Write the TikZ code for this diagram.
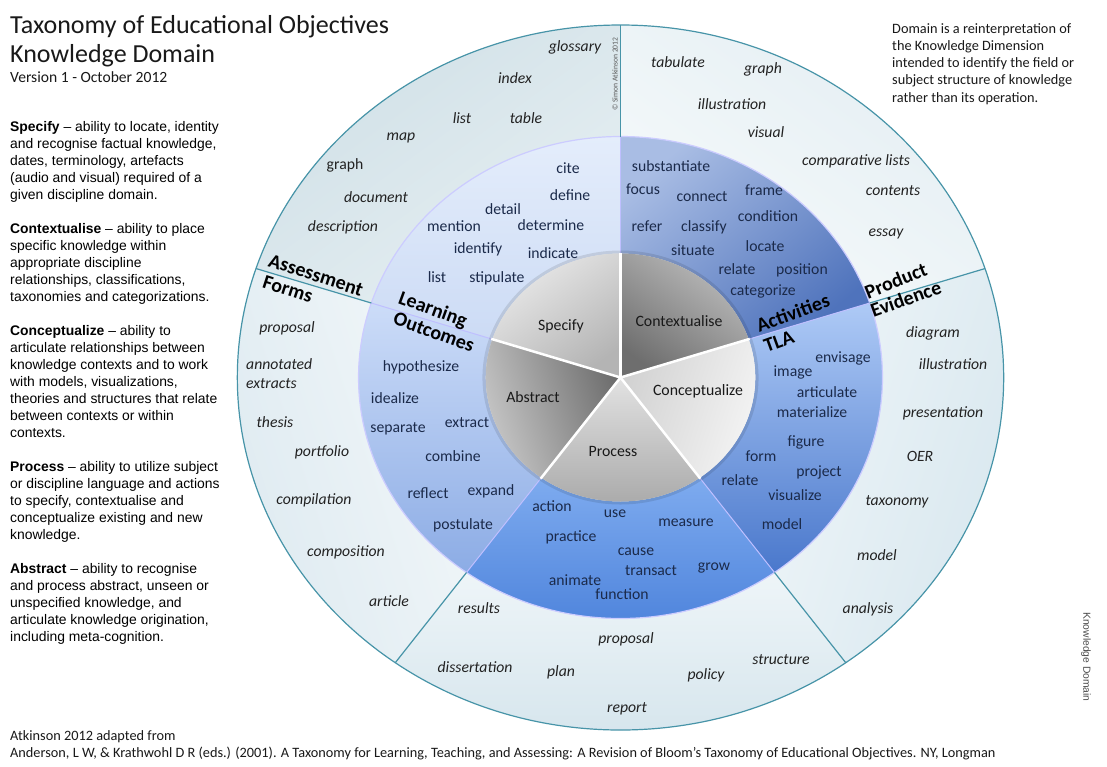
\documentclass[tikz,border=0pt]{standalone}
\usepackage{fontspec}
\setmainfont{Carlito}
\newfontfamily\arialf{Liberation Sans}
\definecolor{tealline}{HTML}{4794A8}
\definecolor{navytext}{HTML}{1B2A4A}
\definecolor{outtext}{HTML}{222222}
% outer ring colours
\definecolor{oTLa}{HTML}{D0E0E7}\definecolor{oTLb}{HTML}{E6EFF2}
\definecolor{oTRa}{HTML}{E4EEF3}\definecolor{oTRb}{HTML}{F6FAFB}
\definecolor{oRa}{HTML}{D6E6EE}\definecolor{oRb}{HTML}{EEF5F8}
\definecolor{oBa}{HTML}{D4E4EC}\definecolor{oBb}{HTML}{EEF5F8}
\definecolor{oLa}{HTML}{DCE9F0}\definecolor{oLb}{HTML}{F2F7F9}
% blue ring colours
\definecolor{bTLa}{HTML}{E4EDFB}\definecolor{bTLb}{HTML}{CCDBF5}
\definecolor{bTRa}{HTML}{A9BDE4}\definecolor{bTRb}{HTML}{4F73BC}
\definecolor{bRa}{HTML}{AECAF6}\definecolor{bRb}{HTML}{4A78CC}
\definecolor{bBa}{HTML}{7EABEF}\definecolor{bBb}{HTML}{4C82DB}
\definecolor{bLa}{HTML}{CCDCF8}\definecolor{bLb}{HTML}{8CACE5}
% grey pie colours
\definecolor{gSa}{HTML}{EAEAEA}\definecolor{gSb}{HTML}{B4B4B4}
\definecolor{gCa}{HTML}{BDBDBD}\definecolor{gCb}{HTML}{6E6E6E}
\definecolor{gKa}{HTML}{F6F6F6}\definecolor{gKb}{HTML}{D2D2D2}
\definecolor{gPa}{HTML}{A8A8A8}\definecolor{gPb}{HTML}{E2E2E2}
\definecolor{gAa}{HTML}{CDCDCD}\definecolor{gAb}{HTML}{6E6E6E}
\newcommand{\annsector}[5]{\path[#1] (#2:#5) arc[start angle=#2,end angle=#3,radius=#5] -- (#3:#4) arc[start angle=#3,end angle=#2,radius=#4] -- cycle;}
\newcommand{\piesector}[3]{\path[#1] (0,0) -- (#2:124) arc[start angle=#2,end angle=#3,radius=124] -- cycle;}
\tikzset{
  ot/.style={font=\fontsize{15.7}{16}\selectfont\itshape, text=outtext, inner sep=0pt, text height=0.7em, text depth=0pt},
  otup/.style={font=\fontsize{15.7}{16}\selectfont, text=outtext, inner sep=0pt, text height=0.7em, text depth=0pt},
  mt/.style={font=\fontsize{15.7}{16}\selectfont, text=navytext, inner sep=0pt, text height=0.7em, text depth=0pt},
  gt/.style={font=\fontsize{15.8}{16}\selectfont, text=black!90, inner sep=0pt, text height=0.7em, text depth=0pt},
  lab/.style={font=\fontsize{20}{21}\selectfont\bfseries, text=black, inner sep=0pt, text height=0.7em, text depth=0pt},
  divline/.style={tealline, line width=1.2pt},
  bluediv/.style={white!75!blue, line width=1pt}
}
\begin{document}
\begin{tikzpicture}[x=1pt,y=-1pt]
\useasboundingbox (0,0) rectangle (1107,766);
\fill[white] (0,0) rectangle (1107,766);

% ---------- wheel ----------
\begin{scope}[shift={(620.5,377.5)}, xscale=1.087, yscale=-1]
  % outer ring
  \annsector{top color=oTLa, bottom color=oTLb, shading angle=36}{90}{162}{241}{352.5}
  \annsector{top color=oTRa, bottom color=oTRb, shading angle=-36}{18}{90}{241}{352.5}
  \annsector{top color=oRa, bottom color=oRb, shading angle=-108}{-54}{18}{241}{352.5}
  \annsector{top color=oBa, bottom color=oBb, shading angle=180}{-126}{-54}{241}{352.5}
  \annsector{top color=oLa, bottom color=oLb, shading angle=108}{162}{234}{241}{352.5}
  % blue ring
  \annsector{top color=bTLa, bottom color=bTLb, shading angle=0}{90}{162}{124}{241}
  \annsector{top color=bTRa, bottom color=bTRb, shading angle=40}{18}{90}{124}{241}
  \annsector{top color=bRa, bottom color=bRb, shading angle=0}{-54}{18}{124}{241}
  \annsector{top color=bBa, bottom color=bBb, shading angle=0}{-126}{-54}{124}{241}
  \annsector{top color=bLa, bottom color=bLb, shading angle=0}{162}{234}{124}{241}
  \draw[white!80!blue, line width=1.2pt] (0,0) circle[radius=241];
  \foreach \a in {90,18,-54,-126,162} \draw[bluediv] (\a:124) -- (\a:241);
  % outer borders
  \draw[divline] (0,0) circle[radius=352.5];
  \foreach \a in {90,18,-54,-126,162} \draw[divline] (\a:241) -- (\a:352.5);
  % shadow of the grey disc
  \fill[black, opacity=0.10] (0,0) circle[radius=127];
  % grey pie
  \piesector{top color=gSa, bottom color=gSb, shading angle=36}{90}{162}
  \piesector{top color=gCa, bottom color=gCb, shading angle=-36}{18}{90}
  \piesector{top color=gKa, bottom color=gKb, shading angle=-108}{-54}{18}
  \piesector{top color=gPa, bottom color=gPb, shading angle=180}{-126}{-54}
  \piesector{top color=gAa, bottom color=gAb, shading angle=108}{162}{234}
  \foreach \a in {90,18,-54,-126,162} \draw[white, line width=2.5pt] (0,0) -- (\a:125);
\end{scope}

% ---------- grey labels ----------
\node[gt] (g1) at (561,327) {Specify};
\node[gt] (g2) at (679,323) {Contextualise};
\node[gt] (g3) at (698,392) {Conceptualize};
\node[gt] (g4) at (533,399) {Abstract};
\node[gt] (g5) at (613,453) {Process};

% ---------- section labels ----------
\node[lab, rotate=-18] (l1) at (315,278) {Assessment};
\node[lab, rotate=-18] (l2) at (287,292) {Forms};
\node[lab, rotate=-20] (l3) at (432,312) {Learning};
\node[lab, rotate=-20] (l4) at (433,335) {Outcomes};
\node[lab, rotate=20] (l5) at (794,316) {Activities};
\node[lab, rotate=20] (l6) at (780,344) {TLA};
\node[lab, rotate=22] (l7) at (897,284) {Product};
\node[lab, rotate=20] (l8) at (907,302) {Evidence};

% ---------- outer ring words ----------
\foreach \t/\x/\y [count=\i] in {glossary/575/48, index/515/80, list/462/120, table/526/120, map/401/137, document/376/199, description/343/228, tabulate/678/64, graph/763/70, illustration/732/106, visual/766/134, comparative lists/856/162, contents/893/192, essay/886/233, diagram/933/334, illustration/953/366, presentation/943/414, OER/920/458, taxonomy/897/502, model/877/557, analysis/868/610, results/479/610, proposal/626/640, dissertation/475/669, plan/561/673, policy/706/676, structure/781/661, report/627/709, proposal/287/329, thesis/275/424, portfolio/322/453, compilation/314/501, composition/346/553, article/389/603}
  \node[ot] (o\i) at (\x,\y) {\t};
\node[otup] (ograph) at (345,166) {graph};
\node[anchor=west, align=left, inner sep=0pt, text=outtext, font=\fontsize{15.7}{19}\selectfont\itshape] (oann) at (246,374) {annotated\\extracts};

% ---------- middle ring words ----------
\foreach \t/\x/\y [count=\i] in {cite/568/170, define/570/197, detail/503/211, mention/454/228, determine/551/227, identify/478/250, indicate/553/255, list/437/279, stipulate/497/279, substantiate/671/168, focus/643/191, connect/702/198, frame/764/192, condition/768/218, refer/647/228, classify/704/228, situate/693/252, locate/765/248, relate/737/271, position/802/271, categorize/763/292, envisage/843/359, image/793/373, articulate/827/394, materialize/812/414, figure/806/443, form/761/458, project/819/473, relate/740/482, visualize/795/497, model/782/526, action/552/508, use/615/514, measure/686/523, practice/571/538, cause/636/552, transact/651/572, grow/714/567, animate/575/582, function/622/596, hypothesize/421/368, idealize/395/400, separate/398/429, extract/467/424, combine/453/458, reflect/428/495, expand/491/492, postulate/463/526}
  \node[mt] (m\i) at (\x,\y) {\t};

% ---------- small rotated texts ----------
\node[rotate=90, font=\fontsize{7.6}{8}\selectfont, text=black!65, inner sep=0pt] (copy) at (615,74) {© Simon Atkinson 2012};
\node[rotate=-90, font=\arialf\fontsize{10.3}{11}\selectfont, text=black!70, inner sep=0pt] (kd) at (1086,657) {Knowledge Domain};

% ---------- header ----------
\node[anchor=base west, inner sep=0pt, font=\fontsize{26}{27}\selectfont, text=black!90] (t1) at (10,33) {Taxonomy of Educational Objectives};
\node[anchor=base west, inner sep=0pt, font=\fontsize{26}{27}\selectfont, text=black!90] (t2) at (10,62) {Knowledge Domain};
\node[anchor=base west, inner sep=0pt, font=\fontsize{15.6}{16}\selectfont, text=black!90] (t3) at (10,82) {Version 1 - October 2012};

% ---------- right note ----------
\node[anchor=north west, inner sep=0pt, align=left, font=\fontsize{14.3}{17.25}\selectfont, text=black!90] (note) at (892,23) {Domain is a reinterpretation of\\the Knowledge Dimension\\intended to identify the field or\\subject structure of knowledge\\rather than its operation.};

% ---------- left descriptions ----------
\node[anchor=north west, inner sep=0pt, align=left, font=\arialf\fontsize{13.9}{17}\selectfont, text=black] (desc) at (10,121) {\textbf{Specify} – ability to locate, identity\\and recognise factual knowledge,\\dates, terminology, artefacts\\(audio and visual) required of a\\given discipline domain.\\[17pt]
\textbf{Contextualise} – ability to place\\specific knowledge within\\appropriate discipline\\relationships, classifications,\\taxonomies and categorizations.\\[17pt]
\textbf{Conceptualize} – ability to\\articulate relationships between\\knowledge contexts and to work\\with models, visualizations,\\theories and structures that relate\\between contexts or within\\contexts.\\[17pt]
\textbf{Process} – ability to utilize subject\\or discipline language and actions\\to specify, contextualise and\\conceptualize existing and new\\knowledge.\\[17pt]
\textbf{Abstract} – ability to recognise\\and process abstract, unseen or\\unspecified knowledge, and\\articulate knowledge origination,\\including meta-cognition.};

% ---------- footer ----------
\node[anchor=base west, inner sep=0pt, font=\fontsize{14.3}{15}\selectfont, text=black!90] (f1) at (10,740) {Atkinson 2012 adapted from};
\node[anchor=base west, inner sep=0pt, font=\fontsize{14.3}{15}\selectfont, text=black!90] (f2) at (10,757) {Anderson, L W, \& Krathwohl D R (eds.) (2001). A Taxonomy for Learning, Teaching, and Assessing: A Revision of Bloom's Taxonomy of Educational Objectives. NY, Longman};
\end{tikzpicture}
\end{document}
